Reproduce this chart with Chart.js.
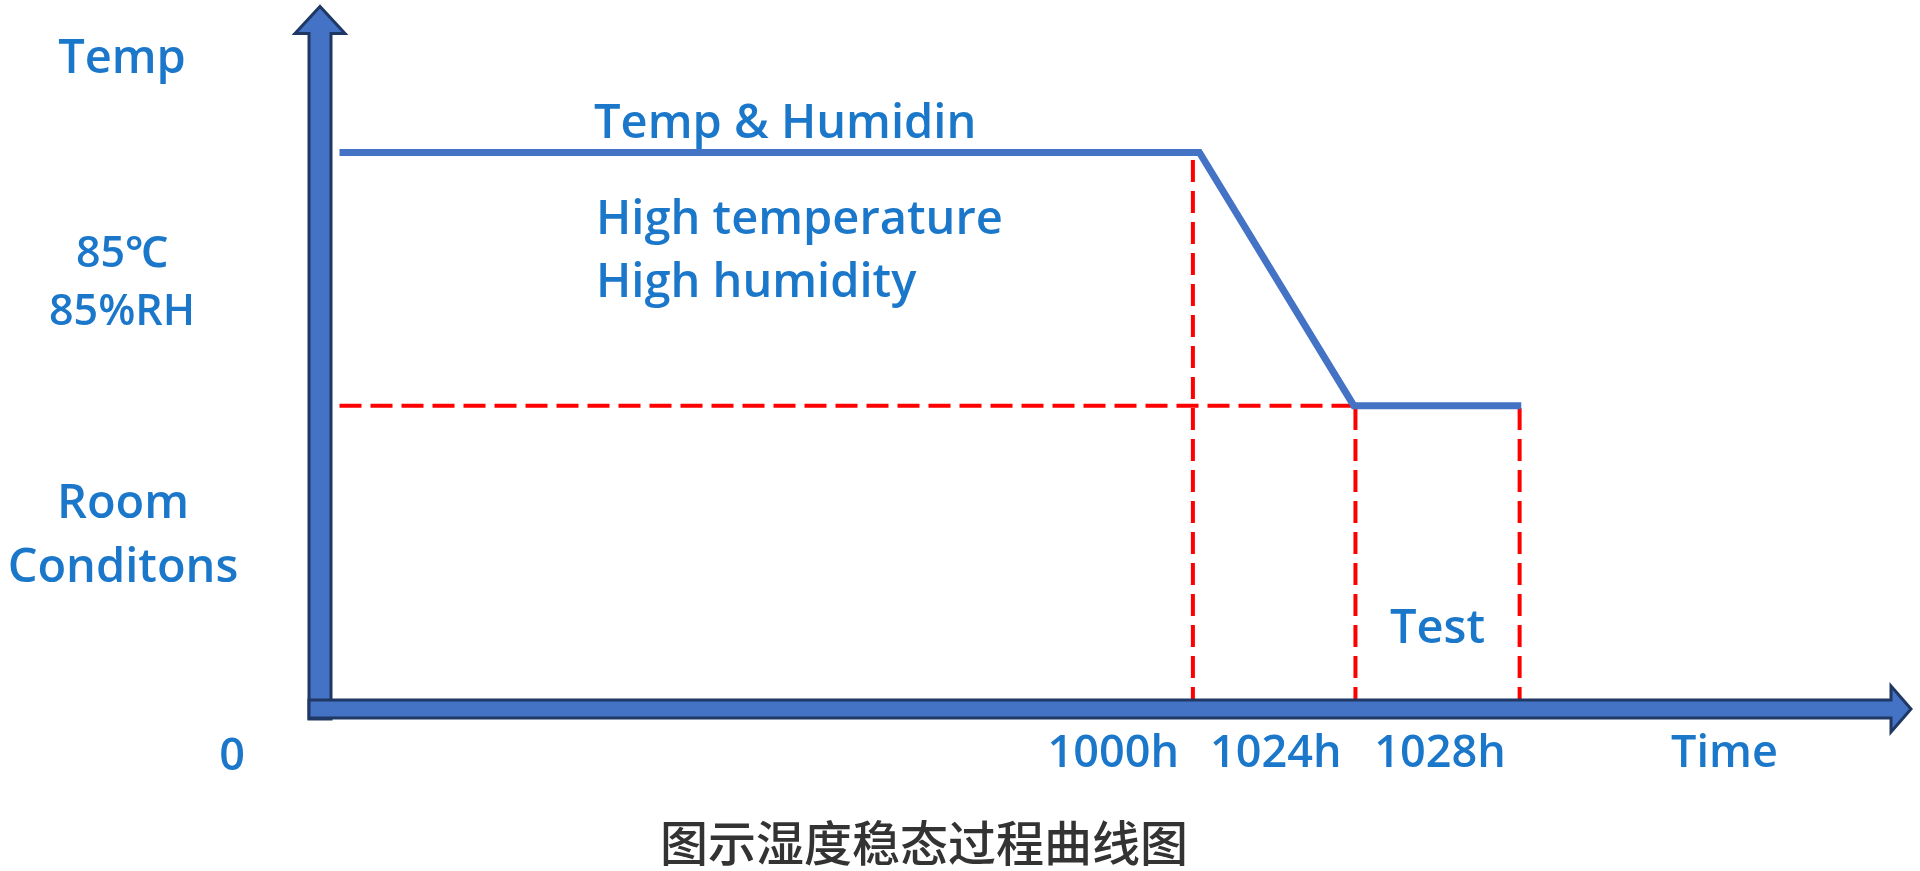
<!DOCTYPE html>
<html>
<head>
<meta charset="utf-8">
<script src="https://cdn.jsdelivr.net/npm/chart.js@4/dist/chart.umd.min.js"></script>
<style>
  html, body { margin: 0; padding: 0; background: #fff; }
  #wrap { width: 1920px; height: 871px; position: relative; }
</style>
</head>
<body>
<div id="wrap"><canvas id="chart"></canvas></div>
<script>
// schematic time axis: each stage mark sits one unit apart, start of test at 0
const stageLabels = ['1000h', '1024h', '1028h'];
const stageX      = [5.37, 6.37, 7.38];
const timeTitle   = 'Time';
const originLabel = '0';

// temperature / humidity profile (schematic level units)
const profileX = [0.12, 5.41, 6.36, 7.39];
const profileY = [100, 100, 54.5, 54.5];

// left side labels, top to bottom
const levelLabels = [['Temp'], ['85℃', '85%RH'], ['Room', 'Conditons']];
const phaseLabel  = 'Temp & Humidin';
const phaseDesc   = ['High temperature', 'High humidity'];
const testLabel   = 'Test';
const caption     = '图示湿度稳态过程曲线图';

const BLUE  = '#4472c4';
const NAVY  = '#1f3864';
const RED   = '#ff0000';
const TEXT  = '#1b77c9';
const FONT  = '"Open Sans", "Noto Sans", sans-serif';

// ── datasets built from the arrays above ──
const profile = profileX.map((x, i) => ({ x, y: profileY[i] }));
const guides = [];
// horizontal guide at the room level, from the axis to the end of the ramp
guides.push([{ x: profileX[0], y: profileY[2] }, { x: stageX[1], y: profileY[2] }]);
// verticals at each stage mark, from the time axis up to the profile
stageX.forEach((x, i) => {
    const level = i === 0 ? profileY[0] : profileY[2];
    guides.push([{ x, y: 0 }, { x, y: level - (i === 0 ? 1.2 : 0) }]);
});

const datasets = [{
    data: profile,
    borderColor: BLUE,
    borderWidth: 7,
    pointRadius: 0,
    tension: 0,
    borderJoinStyle: 'miter'
}].concat(guides.map(g => ({
    data: g,
    borderColor: RED,
    borderWidth: 4,
    borderDash: [22, 9],
    pointRadius: 0,
    tension: 0
})));

// thick block arrows for both axes, drawn over the dashed guides
function blockArrow(ctx, pts) {
    ctx.save();
    ctx.beginPath();
    pts.forEach((p, i) => i ? ctx.lineTo(p[0], p[1]) : ctx.moveTo(p[0], p[1]));
    ctx.closePath();
    ctx.fillStyle = BLUE;
    ctx.fill();
    ctx.lineWidth = 3;
    ctx.lineJoin = 'miter';
    ctx.strokeStyle = NAVY;
    ctx.stroke();
    ctx.restore();
}

const axisArrows = {
    id: 'axisArrows',
    afterDatasetsDraw(chart) {
        const { ctx, chartArea, scales } = chart;
        const x0 = scales.x.getPixelForValue(0);
        const y0 = scales.y.getPixelForValue(0);
        const top = chartArea.top + 1.5, right = chartArea.right - 2;
        // y axis
        const sw = 11, hw = 25, hl = 27;
        blockArrow(ctx, [
            [x0 - sw, y0 + 10], [x0 - sw, top + hl], [x0 - hw, top + hl], [x0, top],
            [x0 + hw, top + hl], [x0 + sw, top + hl], [x0 + sw, y0 + 10]
        ]);
        // x axis
        const sh = 9, hh = 23, hx = 20;
        blockArrow(ctx, [
            [x0 - 11, y0 - sh], [right - hx, y0 - sh], [right - hx, y0 - hh], [right, y0],
            [right - hx, y0 + hh], [right - hx, y0 + sh], [x0 - 11, y0 + sh]
        ]);
    }
};

const labels = {
    id: 'labels',
    afterDraw(chart) {
        const { ctx, scales } = chart;
        const X = v => scales.x.getPixelForValue(v);
        const Y = v => scales.y.getPixelForValue(v);
        ctx.save();
        ctx.fillStyle = TEXT;
        ctx.textBaseline = 'alphabetic';

        // left level labels
        ctx.textAlign = 'center';
        ctx.font = '600 47px ' + FONT;
        ctx.fillText(levelLabels[0][0], 122, Y(114.3));
        ctx.font = '600 43px ' + FONT;
        ctx.fillText(levelLabels[1][0], 122, Y(79.4));
        ctx.fillText(levelLabels[1][1], 122, Y(69.0));
        ctx.font = '600 47px ' + FONT;
        ctx.fillText(levelLabels[2][0], 123, Y(34.3));
        ctx.fillText(levelLabels[2][1], 123, Y(22.8));
        ctx.font = '600 45px ' + FONT;
        ctx.fillText(originLabel, 232, Y(-11));

        // time marks: each label sits in the interval before its mark
        ctx.font = '600 45px ' + FONT;
        stageLabels.forEach((t, i) => ctx.fillText(t, X(stageX[i] - 0.49), Y(-10.4)));
        ctx.fillText(timeTitle, X(8.64), Y(-10.4));

        // phase annotations
        ctx.textAlign = 'left';
        ctx.font = '600 47px ' + FONT;
        ctx.fillText(phaseLabel, 594, Y(102.6));
        ctx.fillText(phaseDesc[0], 596, Y(85.4));
        ctx.fillText(phaseDesc[1], 596, Y(74.0));
        ctx.textAlign = 'center';
        ctx.fillText(testLabel, X((stageX[1] + stageX[2]) / 2), Y(11.9));

        // caption
        ctx.fillStyle = '#333333';
        ctx.font = '500 48px "Noto Sans CJK SC", sans-serif';
        ctx.textBaseline = 'middle';
        ctx.fillText(caption, 924, 843);
        ctx.restore();
    }
};

new Chart(document.getElementById('chart'), {
    type: 'line',
    data: { datasets },
    options: {
        responsive: true,
        maintainAspectRatio: false,
        animation: false,
        layout: { padding: { left: 320, right: 7, top: 5, bottom: 162 } },
        plugins: { legend: { display: false }, tooltip: { enabled: false } },
        scales: {
            x: { type: 'linear', min: 0, max: 9.8, display: false },
            y: { type: 'linear', min: 0, max: 126.5, display: false }
        }
    },
    plugins: [axisArrows, labels]
});
</script>
</body>
</html>
